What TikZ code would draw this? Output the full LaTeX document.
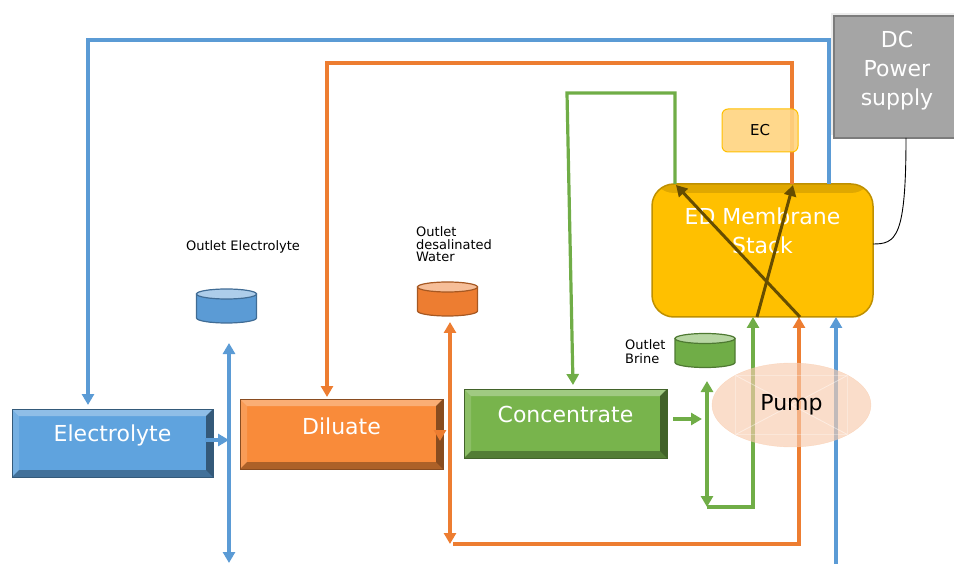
\documentclass[tikz,border=0pt]{standalone}
\usepackage{fontspec}
\setmainfont{DejaVu Sans}
\usetikzlibrary{arrows.meta,calc,shapes.geometric,shadows}

\definecolor{elecblue}{HTML}{5FA3DE}
\definecolor{pipeblue}{HTML}{5B9BD5}
\definecolor{dilorange}{HTML}{F98B3A}
\definecolor{pipeorange}{HTML}{ED7D31}
\definecolor{concgreen}{HTML}{78B44C}
\definecolor{pipegreen}{HTML}{70AD47}
\definecolor{stackgold}{HTML}{FFC000}
\definecolor{ecfill}{HTML}{FFD480}
\definecolor{dcgray}{HTML}{A5A5A5}
\definecolor{pumpfill}{HTML}{F8CBAD}

\tikzset{
  % raised look for the three feed boxes
  bevel/.style={path picture={
    \fill[white,opacity=.3] (path picture bounding box.north west) -- (path picture bounding box.north east)
      -- ([shift={(-7pt,-7pt)}]path picture bounding box.north east)
      -- ([shift={(7pt,-7pt)}]path picture bounding box.north west) -- cycle;
    \fill[white,opacity=.15] (path picture bounding box.north west) -- (path picture bounding box.south west)
      -- ([shift={(7pt,7pt)}]path picture bounding box.south west)
      -- ([shift={(7pt,-7pt)}]path picture bounding box.north west) -- cycle;
    \fill[black,opacity=.3] (path picture bounding box.south west) -- (path picture bounding box.south east)
      -- ([shift={(-7pt,7pt)}]path picture bounding box.south east)
      -- ([shift={(7pt,7pt)}]path picture bounding box.south west) -- cycle;
    \fill[black,opacity=.45] (path picture bounding box.north east) -- (path picture bounding box.south east)
      -- ([shift={(-7pt,7pt)}]path picture bounding box.south east)
      -- ([shift={(-7pt,-7pt)}]path picture bounding box.north east) -- cycle;
  }},
  flowbox/.style={rectangle, inner sep=0pt, outer sep=0pt, fill=#1, draw=#1!55!black, line width=.6pt, bevel},
  boxtext/.style={text=white, align=center, font=\fontsize{22}{29}\selectfont},
  smalltext/.style={align=left, inner sep=0pt, font=\fontsize{13}{13}\selectfont},
  bluepipe/.style={draw=pipeblue, line width=3.2pt},
  orangepipe/.style={draw=pipeorange, line width=3.2pt},
  greenpipe/.style={draw=pipegreen, line width=3.2pt},
  mixline/.style={draw=black!60!stackgold, line width=3pt, ->},
  pics/tank/.style={code={
    \filldraw[fill=#1, draw=#1!70!black, line width=1.2pt]
      (-30,-12) -- (-30,12) arc[start angle=180, end angle=0, x radius=30, y radius=5] -- (30,-12) -- cycle;
    \filldraw[fill=#1!50!white, draw=#1!70!black, line width=1.2pt]
      (0,-12) ellipse[x radius=30, y radius=5];
  }}
}

\begin{document}
\begin{tikzpicture}[x=1pt, y=-1pt, >={Triangle[width=12pt,length=11pt]}]
\useasboundingbox (0,0) rectangle (954,564);

% feed boxes, stack and power supply
\node[flowbox=elecblue, minimum width=201pt, minimum height=68pt,
      label={[boxtext,yshift=8pt]center:Electrolyte}] (elec) at (112.5,443) {};
\node[flowbox=dilorange, minimum width=203pt, minimum height=70pt,
      label={[boxtext,yshift=8pt]center:Diluate}] (dil) at (341.5,434) {};
\node[flowbox=concgreen, minimum width=203pt, minimum height=69pt,
      label={[boxtext,yshift=9pt]center:Concentrate}] (conc) at (565.5,423.5) {};
\node[rectangle, rounded corners=22pt, fill=stackgold, draw=stackgold!75!black, line width=1.5pt,
      minimum width=221pt, minimum height=133pt, inner sep=0pt, outer sep=0pt,
      path picture={
        \fill[black, opacity=.12] (path picture bounding box.north west) rectangle
          ([yshift=-9pt]path picture bounding box.north east);
      },
      label={[boxtext,yshift=20pt]center:ED Membrane\\Stack}] (stack) at (762.5,250.5) {};
\node[rectangle, fill=dcgray, draw=dcgray!75!black, line width=1.5pt,
      minimum width=126pt, minimum height=122pt, inner sep=0pt, outer sep=0pt,
      drop shadow={shadow xshift=-3pt, shadow yshift=3pt, opacity=.15},
      label={[boxtext,yshift=6pt]center:DC\\Power\\supply}] (dc) at (897,77) {};

% outlet tanks
\pic (tkel) at (226.5,306) {tank=pipeblue};
\pic (tkwater) at (447.5,299) {tank=pipeorange};
\pic (tkbrine) at (705,350.5) {tank=pipegreen};
\node[smalltext] (lblel) at (243,247) {Outlet Electrolyte};
\node[smalltext, anchor=west, font=\fontsize{13}{12.5}\selectfont] (lblwater) at (416,244.5) {Outlet\\desalinated\\Water};
\node[smalltext, anchor=west, font=\fontsize{13}{14}\selectfont] (lblbrine) at (625,352) {Outlet\\Brine};

% corner points of the loops
\coordinate (bl) at (88,40);
\coordinate (br) at (829,40);
\coordinate (ol) at (327,63);
\coordinate (or) at (792,63);
\coordinate (gl) at (567,93);
\coordinate (gr) at (675,93);
\coordinate (gcin) at (573,385);
\coordinate (eup) at (229,343);
\coordinate (edn) at (229,563);
\coordinate (eout) at (205,440);
\coordinate (wup) at (450,322);
\coordinate (wdn) at (450,544);
\coordinate (ob) at (799,544);
\coordinate (cout) at (673,419);
\coordinate (bup) at (707,381);
\coordinate (bdn) at (707,507);
\coordinate (gb) at (753,507);
\coordinate (bb) at (836,566);
\coordinate (dtop) at (440,430);
\coordinate (dtip) at (440,441);

% electrolyte loop
\draw[bluepipe,->,shorten >=4pt] (br |- stack.north) -- (br) -- (bl) -- (bl |- elec.north);
\draw[bluepipe,->] (eout) -- (eout -| eup);
\draw[bluepipe,<->] (eup) -- (edn);
\draw[bluepipe,->] (bb) -- (bb |- stack.south);

% diluate loop
\draw[orangepipe,->,shorten >=2pt] (or |- stack.north) -- (or) -- (ol) -- (ol |- dil.north);
\draw[orangepipe,->] (dtop) -- (dtip);
\draw[orangepipe,<->] (wup) -- (wdn);
\draw[orangepipe,->] ([xshift=3pt]wdn) -- (ob) -- (ob |- stack.south);

% concentrate loop
\draw[greenpipe,->] (gr |- stack.north) -- (gr) -- (gl) -- (gcin);
\draw[greenpipe,->] (cout) -- ([xshift=-5pt]cout -| bup);
\draw[greenpipe,<->] (bup) -- (bdn);
\draw[greenpipe,->] (bdn) -- (gb) -- (gb |- stack.south);

% flow through the stack
\draw[mixline] (757,317) -- (793,185);
\draw[mixline] (800,317) -- (676,185);

% power lead
\coordinate (dcout) at (906,138);
\coordinate (pwrin) at (873,244);
\draw[black, line width=.9pt] (dcout |- dc.south) .. controls (906,238) and (896,244) .. (pwrin);

% conductivity probe and pump on top of the pipes
\node[rectangle, rounded corners=6pt, fill=ecfill, fill opacity=.9, text opacity=1,
      draw=stackgold, line width=1pt, minimum width=76pt, minimum height=43pt,
      font=\fontsize{15}{15}\selectfont] (ec) at (760,130.5) {EC};
\node[ellipse, fill=pumpfill, fill opacity=.65, draw=pumpfill, draw opacity=.6, text opacity=1,
      minimum width=159pt, minimum height=84pt, inner sep=0pt,
      font=\fontsize{22}{22}\selectfont,
      path picture={
        \draw[white, opacity=.45, line width=.8pt]
          ($(path picture bounding box.center)!.707!(path picture bounding box.north west)$) --
          ($(path picture bounding box.center)!.707!(path picture bounding box.south east)$)
          ($(path picture bounding box.center)!.707!(path picture bounding box.north east)$) --
          ($(path picture bounding box.center)!.707!(path picture bounding box.south west)$);
        \draw[white, opacity=.3, line width=.8pt]
          ($(path picture bounding box.center)!.707!(path picture bounding box.north west)$) rectangle
          ($(path picture bounding box.center)!.707!(path picture bounding box.south east)$);
      }] (pump) at (791.5,405) {Pump};
\end{tikzpicture}
\end{document}
